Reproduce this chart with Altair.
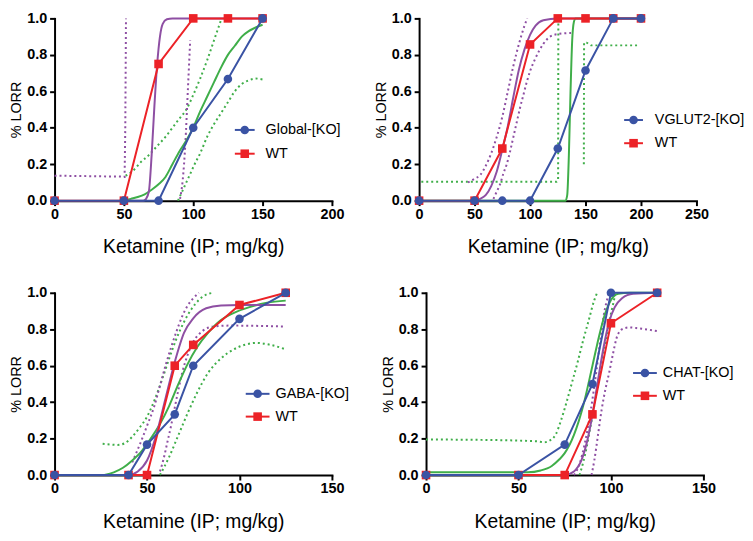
import altair as alt
import pandas as pd

FONT = "Liberation Sans"
BLUE = "#3a53a4"
RED = "#ec2227"
GREEN = "#3fae49"
PURPLE = "#8e4fa3"

# ---------------- Panel 1 : Global ----------------
P1_DOSE = [0, 50, 75, 100, 125, 150]
P1_KO = [0, 0, 0, 0.4, 0.667, 1.0]
P1_WT = [0, 0, 0.75, 1.0, 1.0, 1.0]
P1_KO_FIT_X = [50, 55, 60, 65, 70, 75, 80, 85, 90, 95, 100, 105, 110, 115, 120, 125, 130, 135, 140, 145, 150]
P1_KO_FIT_Y = [0, 0.01, 0.02, 0.035, 0.06, 0.09, 0.13, 0.2, 0.27, 0.33, 0.4, 0.49, 0.57, 0.65, 0.73, 0.8, 0.85, 0.9, 0.93, 0.95, 0.965]
P1_WT_FIT_X = [50, 64, 66, 68, 70, 72, 74, 76, 78, 81, 85, 150]
P1_WT_FIT_Y = [0, 0, 0.01, 0.05, 0.25, 0.52, 0.75, 0.9, 0.97, 0.995, 1.0, 1.0]
P1_WT_CI_A_X = [0, 48, 50.5, 51, 51.5]
P1_WT_CI_A_Y = [0.137, 0.132, 0.13, 0.4, 1.0]
P1_WT_CI_B_X = [90.5, 92.5, 94.2, 96.2, 97.8]
P1_WT_CI_B_Y = [0.01, 0.12, 0.3, 0.62, 0.88]
P1_KO_CI_A_X = [51.2, 56, 62, 68, 74, 80, 86, 90, 95, 100, 105, 110, 115, 120]
P1_KO_CI_A_Y = [0.137, 0.16, 0.21, 0.25, 0.3, 0.35, 0.41, 0.45, 0.5, 0.58, 0.67, 0.77, 0.88, 0.99]
P1_KO_CI_B_X = [89, 92, 95, 98, 101, 105, 110, 115, 120, 125, 130, 135, 140, 145, 150]
P1_KO_CI_B_Y = [0.0, 0.05, 0.1, 0.15, 0.2, 0.26, 0.35, 0.42, 0.48, 0.54, 0.6, 0.64, 0.66, 0.67, 0.665]

# ---------------- Panel 2 : VGLUT2 ----------------
P2_DOSE = [0, 50, 75, 100, 125, 150, 175, 200]
P2_KO = [0, 0, 0, 0, 0.286, 0.714, 1.0, 1.0]
P2_WT = [0, 0, 0.286, 0.857, 1.0, 1.0, 1.0, 1.0]
P2_KO_FIT_X = [0, 132, 133.5, 135, 136.5, 138, 139.5, 141, 200]
P2_KO_FIT_Y = [0, 0, 0.03, 0.25, 0.6, 0.88, 0.98, 1.0, 1.0]
P2_WT_FIT_X = [50, 55, 60, 65, 70, 75, 80, 85, 90, 95, 100, 105, 112, 125, 200]
P2_WT_FIT_Y = [0, 0.01, 0.03, 0.08, 0.16, 0.28, 0.41, 0.57, 0.72, 0.83, 0.91, 0.96, 0.99, 1.0, 1.0]
P2_WT_CI_A_X = [44, 50, 55, 60, 65, 70, 75, 80, 85, 90, 95, 97.5]
P2_WT_CI_A_Y = [0.1, 0.12, 0.14, 0.19, 0.26, 0.35, 0.46, 0.6, 0.74, 0.86, 0.96, 1.0]
P2_WT_CI_B_X = [67, 70, 73, 76, 79, 82, 85, 88, 91, 94, 97, 100, 104, 108, 112, 118, 126, 137]
P2_WT_CI_B_Y = [0.01, 0.05, 0.09, 0.15, 0.2, 0.27, 0.35, 0.43, 0.51, 0.58, 0.65, 0.71, 0.77, 0.82, 0.86, 0.9, 0.915, 0.92]
P2_KO_CI_A_X = [2, 124, 125.3, 125.5]
P2_KO_CI_A_Y = [0.104, 0.104, 0.11, 0.985]
P2_KO_CI_B_X = [148.5, 148.7, 151, 155, 198]
P2_KO_CI_B_Y = [0.2, 0.867, 0.867, 0.852, 0.852]

# ---------------- Panel 3 : GABA ----------------
P3_DOSE = [0, 40, 50, 65, 75, 100, 125]
P3_KO = [0, 0, 0.167, 0.333, 0.6, 0.857, 1.0]
P3_WT = [0, 0, 0, 0.6, 0.714, 0.933, 1.0]
P3_KO_FIT_X = [27, 32, 37, 42, 47, 52, 57, 62, 67, 72, 77, 83, 90, 97, 105, 115, 125]
P3_KO_FIT_Y = [0, 0.015, 0.04, 0.08, 0.13, 0.2, 0.28, 0.38, 0.5, 0.61, 0.7, 0.78, 0.85, 0.89, 0.92, 0.945, 0.957]
P3_WT_FIT_X = [40, 45, 50, 55, 60, 65, 70, 75, 82, 90, 100, 125]
P3_WT_FIT_Y = [0, 0.02, 0.08, 0.22, 0.42, 0.62, 0.78, 0.86, 0.915, 0.93, 0.933, 0.933]
P3_WT_CI_A_X = [42, 47, 50, 54, 57, 60, 63, 66, 69, 72, 75, 78]
P3_WT_CI_A_Y = [0.07, 0.19, 0.27, 0.38, 0.49, 0.6, 0.7, 0.79, 0.87, 0.93, 0.97, 1.0]
P3_WT_CI_B_X = [57, 59, 61, 63, 65, 67, 69, 72, 75, 80, 86, 95, 125]
P3_WT_CI_B_Y = [0.02, 0.09, 0.18, 0.27, 0.37, 0.47, 0.56, 0.66, 0.73, 0.79, 0.815, 0.82, 0.815]
P3_KO_CI_A_X = [26, 30, 34, 38, 42, 46, 50, 54, 58, 62, 66, 70, 74, 78, 82, 86]
P3_KO_CI_A_Y = [0.172, 0.168, 0.165, 0.175, 0.21, 0.26, 0.32, 0.41, 0.52, 0.64, 0.75, 0.84, 0.91, 0.96, 0.99, 1.0]
P3_KO_CI_B_X = [57, 62, 67, 72, 77, 83, 90, 97, 103, 109, 116, 125]
P3_KO_CI_B_Y = [0, 0.1, 0.22, 0.34, 0.45, 0.56, 0.64, 0.69, 0.715, 0.725, 0.716, 0.69]

# ---------------- Panel 4 : CHAT ----------------
P4_DOSE = [0, 50, 75, 90, 100, 125]
P4_KO = [0, 0, 0.167, 0.5, 1.0, 1.0]
P4_WT = [0, 0, 0, 0.333, 0.833, 1.0]
P4_KO_FIT_X = [0, 55, 62, 68, 72, 75, 80, 85, 90, 94, 97, 100, 104, 110, 125]
P4_KO_FIT_Y = [0.015, 0.015, 0.025, 0.05, 0.085, 0.12, 0.22, 0.38, 0.6, 0.78, 0.89, 0.96, 0.995, 1.0, 1.0]
P4_WT_FIT_X = [75, 80, 84, 87, 90, 93, 96, 99, 102, 106, 112, 125]
P4_WT_FIT_Y = [0, 0.02, 0.08, 0.18, 0.33, 0.52, 0.7, 0.84, 0.92, 0.97, 0.995, 1.0]
P4_WT_CI_A_X = [80, 83, 86, 89, 92, 94, 96, 99]
P4_WT_CI_A_Y = [0, 0.06, 0.18, 0.35, 0.56, 0.72, 0.87, 1.0]
P4_WT_CI_B_X = [89.5, 91, 93, 95, 97, 99, 101, 103, 106, 110, 115, 125]
P4_WT_CI_B_Y = [0, 0.08, 0.22, 0.36, 0.47, 0.56, 0.66, 0.75, 0.8, 0.81, 0.805, 0.79]
P4_KO_CI_A_X = [0, 30, 60, 64, 67, 70, 73, 76, 79, 82, 85, 88, 91, 92.5]
P4_KO_CI_A_Y = [0.195, 0.193, 0.185, 0.18, 0.19, 0.22, 0.3, 0.4, 0.51, 0.62, 0.74, 0.85, 0.96, 1.0]
P4_KO_CI_B_X = [83, 85, 87, 89, 91, 93, 95, 97, 99, 101, 102.5]
P4_KO_CI_B_Y = [0, 0.07, 0.16, 0.27, 0.38, 0.5, 0.62, 0.73, 0.84, 0.93, 1.0]

Y_TICKS = [0, 0.2, 0.4, 0.6, 0.8, 1.0]


def make_panel(xmax, xticks, dose, ko, wt, ko_fit, wt_fit, ko_ci, wt_ci, ko_name, leg):
    X = alt.X("x:Q", scale=alt.Scale(domain=[0, xmax], nice=False, zero=True),
              axis=alt.Axis(values=xticks, title="Ketamine (IP; mg/kg)", format="d"))
    Y = alt.Y("y:Q", scale=alt.Scale(domain=[0, 1], nice=False),
              axis=alt.Axis(values=Y_TICKS, format=".1f", title="% LORR"))

    def line(xs, ys, color, dash=None, interp="monotone"):
        df = pd.DataFrame({"x": xs, "y": ys})
        kw = dict(color=color, strokeWidth=2, interpolate=interp)
        if dash:
            kw["strokeDash"] = dash
            kw["strokeCap"] = "butt"
        return alt.Chart(df).mark_line(**kw).encode(x=X, y=Y)

    layers = []
    for (xs, ys, interp) in ko_ci:
        layers.append(line(xs, ys, GREEN, dash=[2, 3], interp=interp))
    for (xs, ys, interp) in wt_ci:
        layers.append(line(xs, ys, PURPLE, dash=[2, 3], interp=interp))
    layers.append(line(ko_fit[0], ko_fit[1], GREEN))
    layers.append(line(wt_fit[0], wt_fit[1], PURPLE))

    wdf = pd.DataFrame({"x": dose, "y": wt})
    kdf = pd.DataFrame({"x": dose, "y": ko})
    layers.append(alt.Chart(wdf).mark_line(color=RED, strokeWidth=2).encode(x=X, y=Y))
    layers.append(alt.Chart(wdf).mark_point(shape="square", filled=True, color=RED, size=75, opacity=1).encode(x=X, y=Y))
    layers.append(alt.Chart(kdf).mark_line(color=BLUE, strokeWidth=2).encode(x=X, y=Y))
    layers.append(alt.Chart(kdf).mark_point(shape="circle", filled=True, color=BLUE, size=75, opacity=1).encode(x=X, y=Y))

    # legend drawn inside the plot
    one = pd.DataFrame({"x": [0], "y": [0]})
    lx1, lx2, tx, y1, y2 = leg
    cx = (lx1 + lx2) / 2
    for (yy, col, shp, name) in [(y1, BLUE, "circle", ko_name), (y2, RED, "square", "WT")]:
        layers.append(alt.Chart(one).mark_rule(color=col, strokeWidth=2).encode(
            x=alt.value(lx1), x2=alt.value(lx2), y=alt.value(yy)))
        layers.append(alt.Chart(one).mark_point(shape=shp, filled=True, color=col, size=75, opacity=1).encode(
            x=alt.value(cx), y=alt.value(yy)))
        layers.append(alt.Chart(one).mark_text(text=name, align="left", baseline="middle", font=FONT,
                                               fontSize=14.5, color="black").encode(
            x=alt.value(tx), y=alt.value(yy)))
    return alt.layer(*layers).properties(width=280, height=184)


M = "monotone"
L = "linear"
p1 = make_panel(200, [0, 50, 100, 150, 200], P1_DOSE, P1_KO, P1_WT,
                (P1_KO_FIT_X, P1_KO_FIT_Y), (P1_WT_FIT_X, P1_WT_FIT_Y),
                [(P1_KO_CI_A_X, P1_KO_CI_A_Y, M), (P1_KO_CI_B_X, P1_KO_CI_B_Y, M)],
                [(P1_WT_CI_A_X, P1_WT_CI_A_Y, L), (P1_WT_CI_B_X, P1_WT_CI_B_Y, M)],
                "Global-[KO]", (182, 202, 213, 112.6, 136.6))
p2 = make_panel(250, [0, 50, 100, 150, 200, 250], P2_DOSE, P2_KO, P2_WT,
                (P2_KO_FIT_X, P2_KO_FIT_Y), (P2_WT_FIT_X, P2_WT_FIT_Y),
                [(P2_KO_CI_A_X, P2_KO_CI_A_Y, L), (P2_KO_CI_B_X, P2_KO_CI_B_Y, L)],
                [(P2_WT_CI_A_X, P2_WT_CI_A_Y, M), (P2_WT_CI_B_X, P2_WT_CI_B_Y, M)],
                "VGLUT2-[KO]", (207, 226, 238, 102.6, 126))
p3 = make_panel(150, [0, 50, 100, 150], P3_DOSE, P3_KO, P3_WT,
                (P3_KO_FIT_X, P3_KO_FIT_Y), (P3_WT_FIT_X, P3_WT_FIT_Y),
                [(P3_KO_CI_A_X, P3_KO_CI_A_Y, M), (P3_KO_CI_B_X, P3_KO_CI_B_Y, M)],
                [(P3_WT_CI_A_X, P3_WT_CI_A_Y, M), (P3_WT_CI_B_X, P3_WT_CI_B_Y, M)],
                "GABA-[KO]", (193, 217, 223, 102, 125))
p4 = make_panel(150, [0, 50, 100, 150], P4_DOSE, P4_KO, P4_WT,
                (P4_KO_FIT_X, P4_KO_FIT_Y), (P4_WT_FIT_X, P4_WT_FIT_Y),
                [(P4_KO_CI_A_X, P4_KO_CI_A_Y, M), (P4_KO_CI_B_X, P4_KO_CI_B_Y, M)],
                [(P4_WT_CI_A_X, P4_WT_CI_A_Y, M), (P4_WT_CI_B_X, P4_WT_CI_B_Y, M)],
                "CHAT-[KO]", (209, 233, 239, 81, 104))

row1 = alt.hconcat(p1, p2, spacing=28)
row2 = alt.hconcat(p3, p4, spacing=30)
chart = alt.vconcat(row1, row2, spacing=29).properties(padding=0).configure_axis(
    domainColor="black", domainWidth=2, domainCap="square", tickColor="black", tickWidth=2, tickSize=5,
    labelFont=FONT, labelFontSize=14.5, labelFontWeight="bold", labelColor="black",
    titleFont=FONT, titleFontWeight="normal", titleColor="black", grid=False,
    labelFlush=False, labelOverlap=False
).configure_axisX(titleFontSize=19.5, titlePadding=17, labelPadding=2).configure_axisY(
    titleFontSize=14.5, titlePadding=3, labelPadding=3
).configure_view(stroke=None)

chart.save("out.html", embed_options={"renderer": "svg", "actions": False})
